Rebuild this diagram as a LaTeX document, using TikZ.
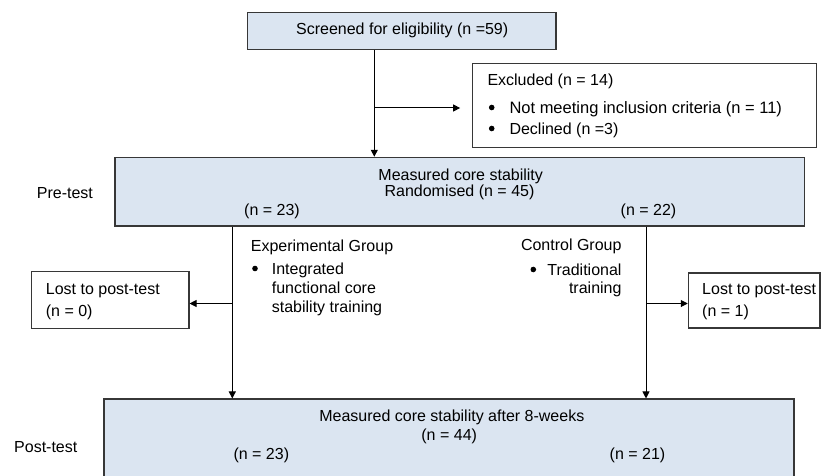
\documentclass[tikz,border=0pt]{standalone}
\usepackage{fontspec}
\setmainfont{Liberation Sans}
\usetikzlibrary{arrows.meta}
\definecolor{boxblue}{RGB}{219,229,241}
\definecolor{edgegray}{RGB}{55,55,55}
\begin{document}
\begin{tikzpicture}[x=1pt,y=-1pt,
  box/.style={draw=edgegray,line width=1.1pt,inner sep=0pt,fill=white},
  stage/.style={box,fill=boxblue},
  txt/.style={inner sep=0pt,font=\fontsize{16}{19}\selectfont},
  bigtxt/.style={inner sep=0pt,font=\fontsize{16.5}{19}\selectfont},
  link/.style={line width=1pt,-{Triangle[length=7pt,width=7pt]}},
  dot/.style={circle,fill=black,inner sep=0pt,minimum size=5.6pt}
]
\useasboundingbox (0,0) rectangle (821,476);
\clip (0,0) rectangle (821,476);

% boxes
\node[stage,minimum width=308.7pt,minimum height=36.6pt] (scr) at (401.65,31) {};
\node[box,minimum width=344pt,minimum height=84pt] (exc) at (644.7,105.3) {};
\node[stage,minimum width=689.3pt,minimum height=68.7pt] (pre) at (459.65,191.65) {};
\node[box,minimum width=157.3pt,minimum height=56.6pt] (lostL) at (110.35,300) {};
\node[box,minimum width=131.7pt,minimum height=55pt] (lostR) at (754.15,300.5) {};
\node[stage,minimum width=690pt,minimum height=83pt] (post) at (449,440.5) {};

% screening
\node[txt,anchor=base] (scrT) at (402.2,35) {Screened for eligibility (n =59)};

% exclusions
\node[txt,anchor=base west] (excT) at (487.3,86) {Excluded (n = 14)};
\node[dot] (excD1) at (491.7,107.5) {};
\node[bigtxt,anchor=base west] (excA) at (509.3,113.3) {Not meeting inclusion criteria (n = 11)};
\node[dot] (excD2) at (491.7,128.5) {};
\node[txt,anchor=base west] (excB) at (509.3,134) {Declined (n =3)};

% pre-test stage
\node[txt,anchor=base west] (preL) at (36.7,198.3) {Pre-test};
\node[txt,anchor=base] (preA) at (460.7,180) {Measured core stability};
\node[txt,anchor=base] (preB) at (459.5,196.7) {Randomised (n = 45)};
\node[txt,anchor=base] (preE) at (272,215) {(n = 23)};
\node[txt,anchor=base] (preC) at (648.5,215) {(n = 22)};

% experimental group
\node[txt,anchor=base west] (expT) at (250.7,251.7) {Experimental Group};
\node[dot] (expD) at (255,268.5) {};
\node[txt,anchor=base west] (expA) at (271.7,274.3) {Integrated};
\node[txt,anchor=base west] (expB) at (271.7,293.3) {functional core};
\node[txt,anchor=base west] (expC) at (271.7,312) {stability training};

% control group
\node[txt,anchor=base east] (conT) at (621.7,250.7) {Control Group};
\node[dot] (conD) at (533.3,269.5) {};
\node[txt,anchor=base east] (conA) at (621.7,275) {Traditional};
\node[txt,anchor=base east] (conB) at (621.7,293.8) {training};

% losses
\node[txt,anchor=base west] (lostLa) at (45.7,294) {Lost to post-test};
\node[txt,anchor=base west] (lostLb) at (45.7,316) {(n = 0)};
\node[txt,anchor=base west] (lostRa) at (702,294) {Lost to post-test};
\node[txt,anchor=base west] (lostRb) at (702,316) {(n = 1)};

% post-test stage
\node[txt,anchor=base west] (postL) at (14,452.3) {Post-test};
\node[txt,anchor=base] (postA) at (451.8,421.7) {Measured core stability after 8-weeks};
\node[txt,anchor=base] (postB) at (449.2,440) {(n = 44)};
\node[txt,anchor=base] (postE) at (261.3,459) {(n = 23)};
\node[txt,anchor=base] (postC) at (637.5,459) {(n = 21)};

% connectors
\coordinate (sx) at (374.3,108);
\coordinate (lx) at (232.3,303.5);
\coordinate (rx) at (646,303.5);
\draw[link] (scr.south -| sx) -- (pre.north -| sx);
\draw[link,shorten >=12pt] (sx) -- (exc.west |- sx);
\draw[link] (pre.south -| lx) -- (post.north -| lx);
\draw[link] (lx) -- (lostL.east |- lx);
\draw[link] (pre.south -| rx) -- (post.north -| rx);
\draw[link] (rx) -- (lostR.west |- rx);
\end{tikzpicture}
\end{document}
